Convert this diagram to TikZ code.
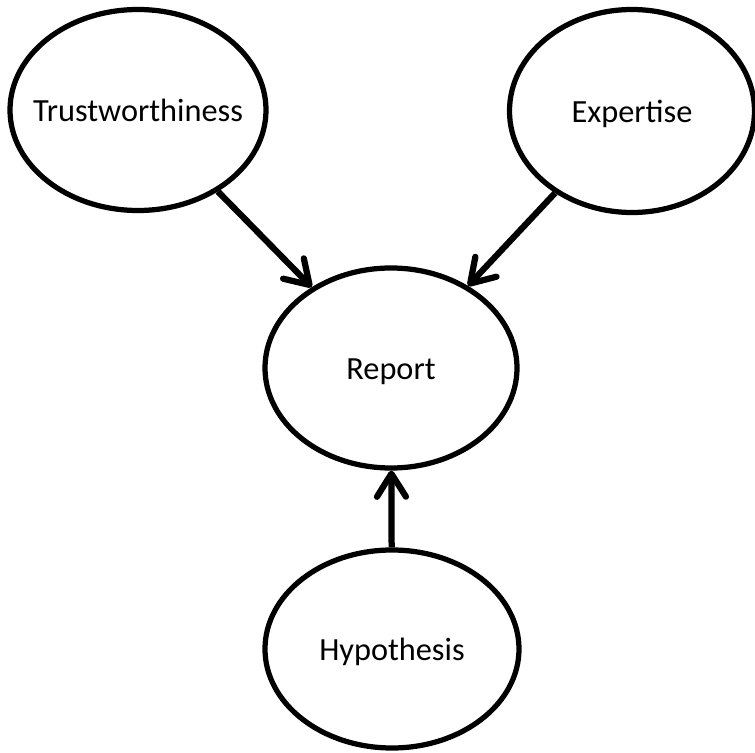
\documentclass[tikz,border=0pt]{standalone}
\usepackage{fontspec}
\setmainfont{Carlito}
\usetikzlibrary{arrows.meta,shapes.geometric}

\begin{document}
\begin{tikzpicture}[x=0.02cm,y=-0.02cm,
    var/.style={draw,ellipse,line width=0.105cm,inner sep=0pt,text height=1.35em,text depth=0.05em,
      font=\fontsize{18.4}{20}\selectfont},
    dep/.style={line width=0.125cm,-{Straight Barb[round,length=0.46cm,width=0.58cm]}}]

\useasboundingbox (0,0) rectangle (755,753);

% the four variables (long label: negative xsep so the ellipse keeps its size)
\node[var,inner xsep=-25pt,minimum width=256*0.02cm,minimum height=201*0.02cm] (trust) at (138,110) {Trustworthiness};
\node[var,minimum width=245*0.02cm,minimum height=203*0.02cm] (expert) at (632,111) {Expertise};
\node[var,minimum width=252*0.02cm,minimum height=200*0.02cm] (report) at (391,368) {Report};
\node[var,minimum width=254*0.02cm,minimum height=198*0.02cm] (hyp) at (392,649) {Hypothesis};

% influences on the report
\draw[dep] (trust) -- (report);
\draw[dep] (expert) -- (report);
\draw[dep] (hyp) -- (report);

\end{tikzpicture}
\end{document}
